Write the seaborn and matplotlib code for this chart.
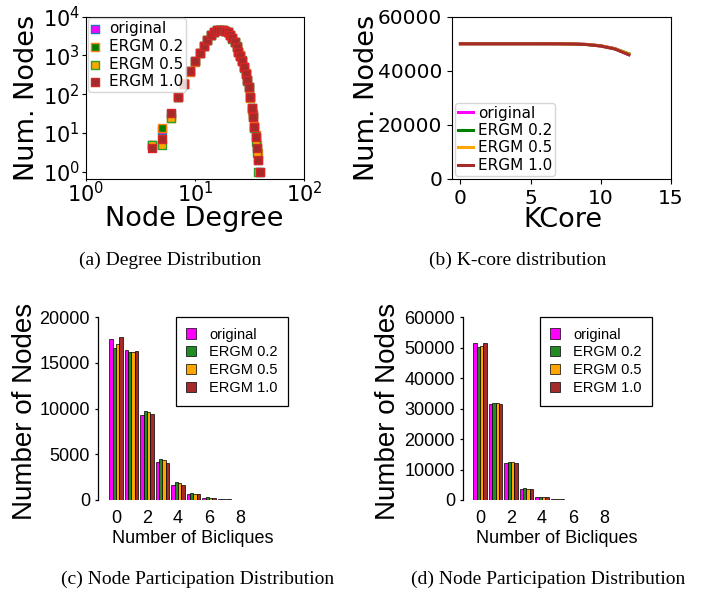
import numpy as np
import pandas as pd
import matplotlib
matplotlib.use("Agg")
import matplotlib.pyplot as plt
import seaborn as sns

nan = np.nan

# ---- data ----
series_names = ['original', 'ERGM 0.2', 'ERGM 0.5', 'ERGM 1.0']

# (a) degree distribution
degrees = list(range(4, 40))
deg_original = [5, 12, 30, 85, 186, 383, 702, 1150, 1700, 2480, 3340, 4050, 4480, 4600, 4550, 4300,
                3900, 3340, 2730, 2150, 1670, 1245, 980, 730, 490, 333, 225, 150, 84, 43, 25, 14, 8, 4, 2, 1]
deg_ergm02 = [5, 13, 24, 82, 190, 375, 690, 1160, 1720, 2450, 3300, 4080, 4500, 4580, 4520, 4320,
              3870, 3300, 2760, 2180, 1650, 1260, 990, 720, 500, 340, 230, 145, 80, 40, 28, 15, 9, 5, 3, nan]
deg_ergm05 = [5, 5, 24, 86, 183, 388, 710, 1140, 1690, 2500, 3360, 4030, 4460, 4620, 4560, 4280,
              3920, 3360, 2710, 2140, 1690, 1230, 970, 740, 480, 330, 220, 148, 86, 45, 30, 13, 6, 3, 1, nan]
deg_ergm10 = [4, 7, 33, 85, 186, 383, 702, 1150, 1700, 2480, 3340, 4050, 4480, 4600, 4550, 4300,
              3900, 3340, 2730, 2150, 1670, 1245, 980, 730, 490, 333, 225, 150, 84, 43, 25, 14, 8, 4, 2, 1]

# (b) k-core distribution
kcore = list(range(0, 13))
k_original = [50000, 50000, 50000, 50000, 50000, 50000, 50000, 49990, 49930, 49750, 49250, 48200, 46000]
k_ergm02 = [50000, 50000, 50000, 50000, 50000, 50000, 49998, 49985, 49920, 49720, 49200, 48150, 46300]
k_ergm05 = [50000, 50000, 50000, 50000, 50000, 50000, 49998, 49988, 49925, 49740, 49230, 48180, 46150]
k_ergm10 = [50000, 50000, 50000, 50000, 50000, 50000, 49997, 49980, 49900, 49700, 49150, 48050, 45900]

# (c), (d) node participation in bicliques
bicliques = list(range(0, 11))
c_original = [17630, 16390, 9310, 4120, 1640, 620, 250, 70, 35, 15, 5]
c_ergm02 = [16600, 16240, 9740, 4490, 1930, 770, 290, 90, 40, 18, 6]
c_ergm05 = [17040, 16170, 9635, 4340, 1860, 660, 270, 80, 38, 16, 5]
c_ergm10 = [17810, 16310, 9415, 4050, 1640, 620, 220, 70, 30, 14, 4]

d_original = [51460, 31530, 12150, 3720, 875, 220, 100, 40, 15, 5, 2]
d_ergm02 = [50360, 31860, 12480, 3830, 985, 250, 110, 45, 18, 6, 2]
d_ergm05 = [50690, 31750, 12370, 3720, 900, 230, 100, 40, 16, 5, 2]
d_ergm10 = [51460, 31640, 12040, 3610, 880, 215, 95, 38, 14, 5, 2]

# ---- layout helpers (pixel coords from top-left) ----
W, H = 705, 593
fig = plt.figure(figsize=(W / 100, H / 100), dpi=100)


def box(l, t, r, b):
    return [l / W, 1 - b / H, (r - l) / W, (b - t) / H]


def fx(x):
    return x / W


def fy(y):
    return 1 - y / H


rsans = 'Liberation Sans'
serif = 'Liberation Serif'

# ---- (a) degree distribution ----
ax_a = fig.add_axes(box(85.7, 16.5, 304.3, 179.3))
faces = ['magenta', 'green', 'orange', 'brown']
edges = ['#1f77b4', '#ff7f0e', '#2ca02c', '#d62728']
for name, vals, fc, ec in zip(series_names, [deg_original, deg_ergm02, deg_ergm05, deg_ergm10], faces, edges):
    sns.scatterplot(x=degrees, y=vals, marker='s', s=34, color=fc, edgecolor=ec,
                    linewidth=1.0, label=name, ax=ax_a)
ax_a.set_xscale('log')
ax_a.set_yscale('log')
ax_a.set_xticks([1, 10, 100])
ax_a.set_yticks([1, 10, 100, 1000, 10000])
ax_a.set_xlim(1, 100)
ax_a.set_ylim(0.637, 1e4)
ax_a.minorticks_off()
ax_a.tick_params(labelsize=15)
ax_a.tick_params(axis='x', length=1.5, pad=-0.5)
ax_a.tick_params(axis='y', length=3, pad=1.0)
ax_a.set_xlabel('Node Degree', fontsize=19.5)
ax_a.set_ylabel('Num. Nodes', fontsize=19.5)
ax_a.xaxis.set_label_coords(fx(194), fy(206), transform=fig.transFigure)
ax_a.yaxis.set_label_coords(fx(39.7), fy(97.5), transform=fig.transFigure)
ax_a.legend(loc='upper left', bbox_to_anchor=(fx(88), fy(18)), bbox_transform=fig.transFigure,
            borderaxespad=0, fontsize=11, borderpad=0.2, labelspacing=0.18,
            handlelength=0.55, handletextpad=0.6, scatterpoints=1)

# ---- (b) k-core distribution ----
ax_b = fig.add_axes(box(452, 16.7, 671, 179))
line_colors = ['magenta', 'green', 'orange', 'brown']
for name, vals, c in zip(series_names, [k_original, k_ergm02, k_ergm05, k_ergm10], line_colors):
    sns.lineplot(x=kcore, y=vals, color=c, lw=2.2, label=name, ax=ax_b)
ax_b.set_xlim(-0.6, 15)
ax_b.set_ylim(0, 60000)
ax_b.set_xticks([0, 5, 10, 15])
ax_b.set_yticks([0, 20000, 40000, 60000])
ax_b.tick_params(labelsize=14.5)
ax_b.set_xlabel('KCore', fontsize=19.5)
ax_b.set_ylabel('Num. Nodes', fontsize=19.5)
ax_b.xaxis.set_label_coords(fx(562.5), fy(206.7), transform=fig.transFigure)
ax_b.yaxis.set_label_coords(fx(379.7), fy(97.5), transform=fig.transFigure)
ax_b.legend(loc='lower left', bbox_to_anchor=(fx(455), fy(176)), bbox_transform=fig.transFigure,
            borderaxespad=0, fontsize=11, borderpad=0.2, labelspacing=0.16,
            handlelength=1.0, handletextpad=0.3)

# ---- (c), (d) bar charts, R style ----
bar_colors = ['#ff00ff', '#228b22', '#ffa500', '#a52a2a']


def biclique_panel(rect, xlim, ymax, ystep, groups, leg_xy, ylab_x, xlab_x):
    ax = fig.add_axes(rect)
    df = pd.DataFrame({
        'k': np.tile(bicliques, len(series_names)),
        'n': np.concatenate(groups),
        'series': np.repeat(series_names, len(bicliques)),
    })
    sns.barplot(data=df, x='k', y='n', hue='series', hue_order=series_names,
                palette=bar_colors, saturation=1, width=0.86, edgecolor='black', linewidth=0.5,
                errorbar=None, ax=ax)
    ax.set_xlim(*xlim)
    ax.set_ylim(0, ymax)
    for s in ['top', 'right', 'bottom']:
        ax.spines[s].set_visible(False)
    ax.spines['left'].set_linewidth(0.9)
    ax.set_xticks([0, 2, 4, 6, 8])
    ax.set_xticklabels(['0', '2', '4', '6', '8'], fontfamily=rsans, fontsize=13)
    yt = list(range(0, ymax + 1, ystep))
    ax.set_yticks(yt)
    ax.set_yticklabels([str(v) for v in yt], fontfamily=rsans, fontsize=13)
    ax.tick_params(axis='x', length=0, pad=7)
    ax.tick_params(axis='y', length=2.4, width=0.9, pad=3.6)
    ax.set_xlabel('Number of Bicliques', fontfamily=rsans, fontsize=13)
    ax.set_ylabel('Number of Nodes', fontfamily=rsans, fontsize=20)
    ax.xaxis.set_label_coords(fx(xlab_x), fy(530), transform=fig.transFigure)
    ax.yaxis.set_label_coords(fx(ylab_x), fy(411), transform=fig.transFigure)
    handles, labels = ax.get_legend_handles_labels()
    leg = ax.legend(handles, labels, loc='upper left', bbox_to_anchor=(fx(leg_xy[0]), fy(leg_xy[1])),
                    bbox_transform=fig.transFigure, borderaxespad=0,
                    prop={'family': rsans, 'size': 10.5}, borderpad=0.7, labelspacing=0.27,
                    handlelength=0.7, handleheight=0.7, handletextpad=0.87,
                    fancybox=False, framealpha=1, edgecolor='black')
    leg.get_frame().set_linewidth(0.9)
    return ax


ax_c = biclique_panel(box(98.3, 317.3, 290, 500), (-1.14, 11.23), 20000, 5000,
                      [c_original, c_ergm02, c_ergm05, c_ergm10], (176, 317.3), 37.9, 193)
ax_d = biclique_panel(box(463.3, 317.3, 655, 500), (-1.08, 11.3), 60000, 10000,
                      [d_original, d_ergm02, d_ergm05, d_ergm10], (540, 317.3), 400.9, 557)

# ---- captions ----
captions = ['(a) Degree Distribution', '(b) K-core distribution',
            '(c) Node Participation Distribution', '(d) Node Participation Distribution']
cap_pos = [(170, 260), (518, 260), (198, 579), (548, 579)]
for txt, (cx, cy) in zip(captions, cap_pos):
    fig.text(fx(cx), fy(cy), txt, ha='center', va='center', fontfamily=serif, fontsize=14)

fig.savefig('out.png', dpi=100)
